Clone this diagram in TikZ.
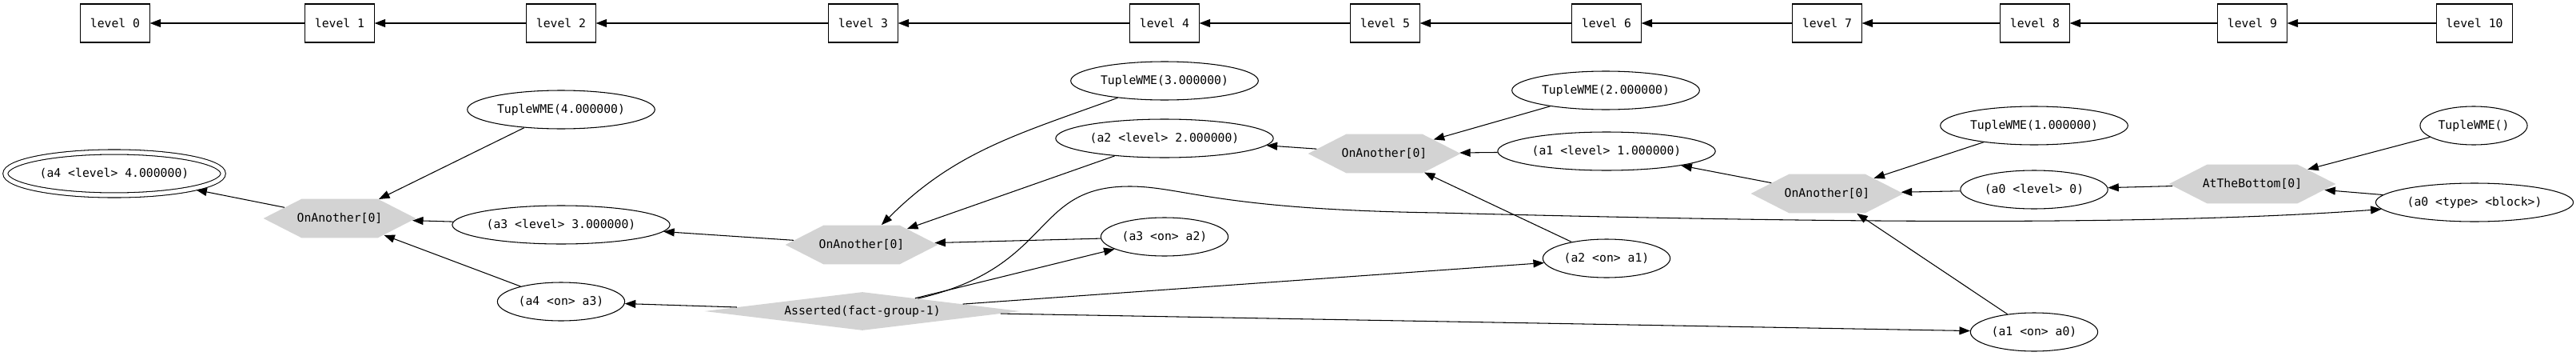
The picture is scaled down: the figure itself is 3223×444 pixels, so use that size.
\documentclass[tikz,border=0pt]{standalone}
\usepackage{fontspec}
\setmonofont{DejaVu Sans Mono}
\usetikzlibrary{arrows.meta,shapes.geometric,shapes.symbols}
\definecolor{rulegray}{HTML}{D3D3D3}

\begin{document}
\begin{tikzpicture}[x=0.02cm, y=0.02cm,
		every node/.style={font=\ttfamily\fontsize{8.4}{10}\selectfont},
		levelbox/.style={draw, line width=0.6pt, rectangle, inner xsep=0.24cm, minimum height=0.96cm},
		wme/.style={draw, line width=0.6pt, ellipse, fill=white, inner xsep=0.06cm, inner ysep=0pt, minimum height=0.96cm},
		rulenode/.style={signal, signal to=west and east, signal pointer angle=54, fill=rulegray, inner xsep=-0.12cm, minimum height=0.98cm},
		factnode/.style={diamond, aspect=8.2, fill=rulegray, inner sep=0pt, minimum width=7.9cm, minimum height=0.96cm},
		edge/.style={-{Triangle[length=0.27cm, width=0.2cm]}, line width=0.6pt}]
		
		\useasboundingbox (0,0) rectangle (3223,444);
		
		% Level chain (top row)
		\foreach \i/\x in {0/144, 1/425, 2/702, 3/1080, 4/1457, 5/1733, 6/2010, 7/2286, 8/2546, 9/2818, 10/3096} {
			\node[levelbox] (level\i) at (\x,415) {level \i};
		}
		\foreach \i/\j in {1/0, 2/1, 3/2, 4/3, 5/4, 6/5, 7/6, 8/7, 9/8, 10/9} {
			\draw[edge] (level\i) -- (level\j);
		}
		
		% Rule nodes (grey)
		\node[rulenode] (oa4) at (425,171) {OnAnother[0]};
		\node[rulenode] (oa3) at (1078,138) {OnAnother[0]};
		\node[rulenode] (oa2) at (1732,252) {OnAnother[0]};
		\node[rulenode] (oa1) at (2286,202) {OnAnother[0]};
		\node[rulenode] (atb) at (2818,214) {AtTheBottom[0]};
		\node[factnode] (asserted) at (1079,55) {Asserted(fact-group-1)};
		
		% WME nodes
		\node[wme, double, double distance=0.1cm, minimum height=1.08cm, outer sep=0.06cm] (a4level) at (143,227) {(a4 <level> 4.000000)};
		\node[wme] (tw4) at (702,307) {TupleWME(4.000000)};
		\node[wme] (a3level) at (702,163) {(a3 <level> 3.000000)};
		\node[wme] (a4on3) at (702,67) {(a4 <on> a3)};
		\node[wme] (tw3) at (1457,343) {TupleWME(3.000000)};
		\node[wme] (a2level) at (1457,271) {(a2 <level> 2.000000)};
		\node[wme] (a3on2) at (1457,148) {(a3 <on> a2)};
		\node[wme] (tw2) at (2009,331) {TupleWME(2.000000)};
		\node[wme] (a1level) at (2010,255) {(a1 <level> 1.000000)};
		\node[wme] (a2on1) at (2010,121) {(a2 <on> a1)};
		\node[wme] (tw1) at (2545,287) {TupleWME(1.000000)};
		\node[wme] (a0level) at (2545,207) {(a0 <level> 0)};
		\node[wme] (a1on0) at (2545,29) {(a1 <on> a0)};
		\node[wme] (tw0) at (3095,287) {TupleWME()};
		\node[wme] (a0type) at (3096,191) {(a0 <type> <block>)};
		
		% Straight edges
		\foreach \a/\b in {oa4/a4level, tw4/oa4, a3level/oa4, a4on3/oa4, asserted/a4on3,
			oa3/a3level, a2level/oa3, a3on2/oa3, asserted/a3on2, asserted/a2on1, asserted/a1on0,
			oa2/a2level, tw2/oa2, a1level/oa2, a2on1/oa2,
			oa1/a1level, tw1/oa1, a0level/oa1, a1on0/oa1,
			atb/a0level, tw0/atb, a0type/atb} {
			\draw[edge] (\a) -- (\b);
		}
		
		% Curved edges
		\draw[edge] (tw3) to[out=200, in=45] (oa3);
		\draw[edge] (asserted) .. controls (1320,110) and (1290,211) .. (1413,211)
			.. controls (1480,211) and (1520,182) .. (1800,178)
			.. controls (2300,165) and (2700,162) .. (a0type);
		
	\end{tikzpicture}
\end{document}
